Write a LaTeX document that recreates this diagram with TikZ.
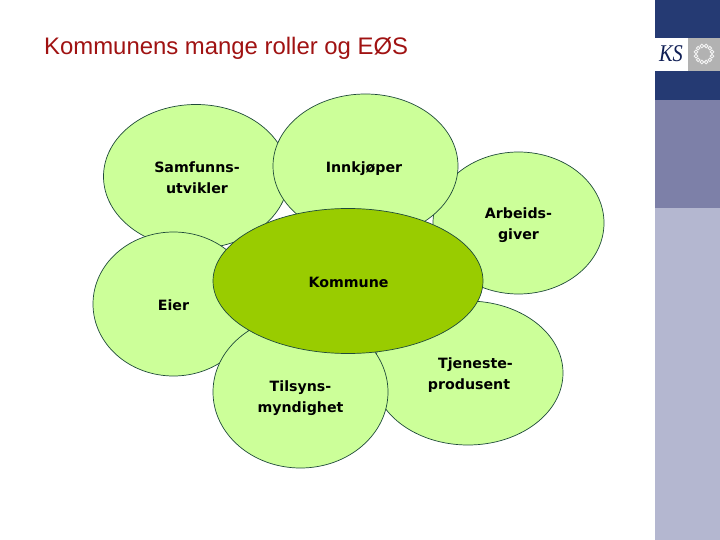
\documentclass[tikz,border=0pt]{standalone}
\usepackage{fontspec}
\setmainfont{DejaVu Sans}
\newfontfamily\titlefont{Liberation Sans}
\newfontfamily\logofont{Liberation Serif}
\definecolor{petal}{HTML}{CCFF99}
\definecolor{core}{HTML}{99CC00}
\definecolor{edge}{HTML}{1F4A3A}
\definecolor{navy}{HTML}{253A73}
\definecolor{logonavy}{HTML}{101F55}
\definecolor{midblue}{HTML}{7D80A8}
\definecolor{lightblue}{HTML}{B4B7D0}
\definecolor{logogray}{HTML}{B2B2B2}
\definecolor{titlered}{HTML}{A01212}
\tikzset{
  petalshape/.style={ellipse,draw=edge,line width=0.7pt,fill=petal,inner sep=0pt,minimum width=#1},
  label/.style={font=\fontsize{14.2}{21.5}\selectfont\bfseries,text=black,inner sep=0pt,align=center},
  band/.style={fill=#1,draw=none}
}
\usetikzlibrary{shapes.geometric}
\begin{document}
\begin{tikzpicture}[x=1pt,y=-1pt]
\useasboundingbox (0,0) rectangle (720,540);
\fill[white] (0,0) rectangle (720,540);
% side panel
\fill[band=navy] (655,0) rectangle (720,38);
\fill[band=white] (655,38) rectangle (688,71);
\fill[band=logogray] (688,38) rectangle (720,71);
\fill[band=navy] (655,71) rectangle (720,100);
\fill[band=midblue] (655,100) rectangle (720,208);
\fill[band=lightblue] (655,208) rectangle (720,540);
\node[inner sep=0pt,text=logonavy,font=\logofont\itshape\fontsize{24}{24}\selectfont,xscale=0.85] (ks) at (671,54) {KS};
\foreach \a in {15,45,...,345}{\draw[white!85!logogray,line width=0.9pt] (704,54)+(\a:8.3) circle (1.8);}
% title
\node[anchor=base west,inner sep=0pt,text=titlered,font=\titlefont\fontsize{23.9}{24}\selectfont] (title) at (44,55) {Kommunens mange roller og EØS};
% petals
\node[petalshape=185pt,minimum height=144pt] (sam) at (196,176.5) {};
\node[petalshape=171pt,minimum height=142pt] (arb) at (518.5,223) {};
\node[petalshape=185pt,minimum height=144pt] (inn) at (365.5,166) {};
\node[petalshape=190pt,minimum height=144pt] (tje) at (468,373) {};
\node[petalshape=161pt,minimum height=144pt] (eie) at (173.5,304) {};
\node[petalshape=175pt,minimum height=152pt] (til) at (300.5,392) {};
\node[ellipse,draw=edge,line width=0.7pt,fill=core,inner sep=0pt,minimum width=270pt,minimum height=145pt] (kom) at (348,281) {};
% labels
\node[label] (lsam) at (197,177.5) {Samfunns-\\utvikler};
\node[label] (linn) at (364,168.5) {Innkjøper};
\node[label] (larb) at (518.5,225) {Arbeids-\\giver};
\node[label] (lkom) at (348.5,282) {Kommune};
\node[label] (leie) at (173.5,305) {Eier};
\node[label] (ltil) at (300.5,398) {Tilsyns-\\myndighet};
\node[label] (ltje) at (469,375) {\hspace*{13pt}Tjeneste-\\produsent};
\end{tikzpicture}
\end{document}
